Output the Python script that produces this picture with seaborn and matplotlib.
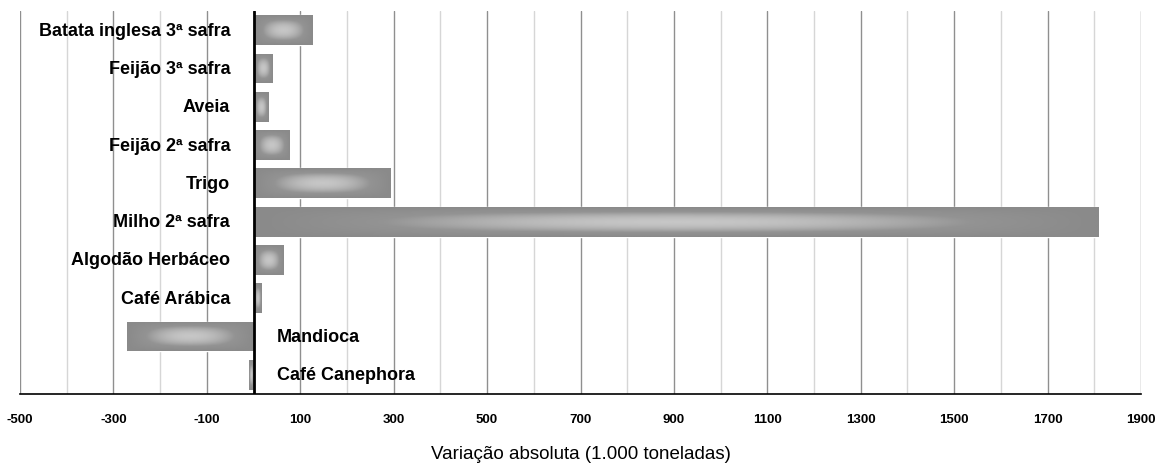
#!/usr/bin/env python3

import numpy as np
import pandas as pd
import seaborn as sns
import matplotlib.pyplot as plt
from matplotlib.colors import LinearSegmentedColormap

culturas = [
    "Batata inglesa 3ª safra",
    "Feijão 3ª safra",
    "Aveia",
    "Feijão 2ª safra",
    "Trigo",
    "Milho 2ª safra",
    "Algodão Herbáceo",
    "Café Arábica",
    "Mandioca",
    "Café Canephora",
]
variacao = [126, 40, 31, 75, 292, 1808, 64, 17, -270, -9]

xticks = list(range(-500, 2000, 100))
xticklabels = [str(v) if (v // 100) % 2 else "" for v in xticks]


def main():
    df = pd.DataFrame({"cultura": culturas, "variacao": variacao})

    sns.set_style("white")
    plt.rcParams["font.family"] = ["Liberation Sans", "DejaVu Sans"]
    plt.rcParams["text.color"] = "black"
    plt.rcParams["axes.labelcolor"] = "black"
    plt.rcParams["xtick.color"] = "black"

    fig = plt.figure(figsize=(11.58, 4.64), dpi=100)
    ax = fig.add_axes([20 / 1158, 1 - 395 / 464, 1121 / 1158, 383 / 464])

    sns.barplot(data=df, x="variacao", y="cultura", orient="h",
                color="#8c8c8c", width=0.78, ax=ax, zorder=3)

    # gradiente (claro no centro) dentro de cada barra
    cmap = LinearSegmentedColormap.from_list("g", ["#8a8a8a", "#939393", "#c6c6c6"])
    u = np.linspace(-1, 1, 80)
    v = np.linspace(-1, 1, 24)
    X, Y = np.meshgrid(u, v)
    Z = (1 - X ** 2) * (1 - Y ** 2)
    for p in ax.patches:
        x0, y0 = p.get_x(), p.get_y()
        w, h = p.get_width(), p.get_height()
        if w < 0:
            x0, w = x0 + w, -w
        im = ax.imshow(Z, extent=(x0, x0 + w, y0 + h, y0), cmap=cmap,
                       aspect="auto", interpolation="bilinear", zorder=4,
                       vmin=0, vmax=1)
        im.set_clip_path(p)

    for i, (c, val) in enumerate(zip(culturas, variacao)):
        if val >= 0:
            ax.text(-50, i, c, ha="right", va="center", fontsize=13,
                    fontweight="bold", color="black", zorder=6)
        else:
            ax.text(50, i, c, ha="left", va="center", fontsize=13,
                    fontweight="bold", color="black", zorder=6)

    ax.set_xlim(-500, 1900)
    ax.set_ylim(9.5, -0.5)
    ax.set_xticks(xticks)
    ax.set_xticklabels(xticklabels, fontsize=9.5, fontweight="bold")
    ax.tick_params(axis="x", direction="inout", length=6, width=1,
                   color="black", pad=11)
    ax.set_yticks([])
    ax.set_ylabel("")
    ax.set_xlabel("Variação absoluta (1.000 toneladas)", fontsize=13.5, labelpad=14)

    for t in xticks:
        ax.axvline(t, color="#8f8f8f" if (t // 100) % 2 else "#d6d6d6",
                   lw=1, zorder=1)
    ax.axvline(0, color="black", lw=2, zorder=5)

    for s in ["top", "right", "left"]:
        ax.spines[s].set_visible(False)
    ax.spines["bottom"].set_color("black")
    ax.spines["bottom"].set_linewidth(1.2)

    plt.savefig("out.png", dpi=100)


if __name__ == "__main__":
    main()
